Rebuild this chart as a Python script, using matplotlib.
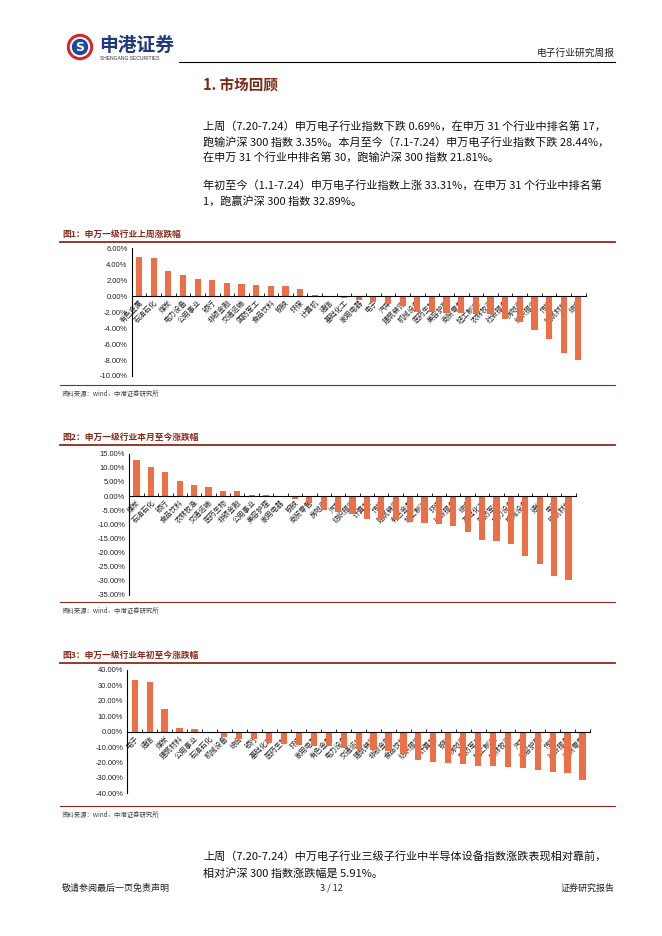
import numpy as np
import matplotlib.pyplot as plt
from matplotlib.patches import Circle

plt.rcParams['font.family'] = ['Noto Sans CJK SC', 'DejaVu Sans']

# 图1：申万一级行业上周涨跌幅
week_names = ['有色金属', '石油石化', '煤炭', '电力设备', '公用事业', '银行', '非银金融', '交通运输',
              '国防军工', '食品饮料', '钢铁', '环保', '计算机', '通信', '基础化工', '家用电器',
              '电子', '汽车', '建筑装饰', '机械设备', '医药生物', '美容护理', '商贸零售', '轻工制造',
              '农林牧渔', '社会服务', '房地产', '纺织服饰', '传媒', '建筑材料', '综合']
week_vals = [4.85, 4.80, 3.20, 2.70, 2.10, 2.05, 1.70, 1.55,
             1.40, 1.30, 1.25, 0.90, 0.10, 0.02, -0.25, -0.50,
             -0.69, -1.00, -1.26, -1.97, -1.98, -2.05, -2.06, -2.18,
             -2.26, -2.80, -3.22, -4.18, -5.40, -7.10, -8.05]

# 图2：申万一级行业本月至今涨跌幅
month_names = ['煤炭', '石油石化', '银行', '食品饮料', '农林牧渔', '交通运输', '医药生物', '非银金融',
               '公用事业', '美容护理', '家用电器', '钢铁', '商贸零售', '房地产', '汽车', '纺织服饰',
               '计算机', '传媒', '建筑装饰', '有色金属', '轻工制造', '环保', '社会服务', '综合',
               '基础化工', '国防军工', '电力设备', '机械设备', '通信', '电子', '建筑材料']
month_vals = [12.8, 10.4, 8.6, 5.4, 3.8, 3.3, 1.9, 1.8,
              0.35, 0.2, -0.1, -1.2, -2.4, -5.1, -5.6, -6.5,
              -8.0, -8.2, -8.4, -9.2, -9.5, -9.8, -10.6, -12.9,
              -15.5, -16.1, -16.9, -21.4, -24.0, -28.44, -29.9]

# 图3：申万一级行业年初至今涨跌幅
ytd_names = ['电子', '通信', '煤炭', '建筑材料', '公用事业', '石油石化', '机械设备', '综合',
             '银行', '基础化工', '医药生物', '环保', '家用电器', '有色金属', '电力设备', '交通运输',
             '建筑装饰', '非银金融', '食品饮料', '纺织服饰', '计算机', '钢铁', '房地产', '国防军工',
             '轻工制造', '农林牧渔', '汽车', '美容护理', '传媒', '社会服务', '商贸零售']
ytd_vals = [33.31, 32.2, 14.5, 2.4, 1.9, -0.2, -3.7, -4.8,
            -5.0, -7.6, -8.0, -8.6, -9.1, -9.3, -10.8, -11.5,
            -12.0, -12.3, -14.0, -18.2, -19.7, -20.3, -20.8, -22.0,
            -22.5, -22.9, -23.3, -25.0, -26.2, -26.8, -31.5]

W, H = 662, 936
fig = plt.figure(figsize=(W / 100, H / 100), dpi=100)

def fx(x):
    return x / W

def fy(y):
    return 1 - y / H

dark_red = '#8B2A1A'
bar_color = '#EE6E45'
cjk = ['Noto Sans CJK SC', 'DejaVu Sans']

# header / logo
logo = fig.add_axes([0, 0, 1, 1], zorder=-1)
logo.set_xlim(0, W)
logo.set_ylim(H, 0)
logo.axis('off')
logo.add_patch(Circle((80, 47), 12.5, color='#D7262B'))
logo.add_patch(Circle((80, 47), 9.5, color='white'))
logo.add_patch(Circle((80, 47), 7.5, color='#1C4A9B'))
logo.text(80, 47.5, 'S', color='white', fontsize=9, fontweight='bold', ha='center', va='center',
          family='DejaVu Sans')
fig.text(fx(99), fy(45), '申港证券', fontsize=13.5, fontweight='bold', color='#1F3A7A',
         va='center', family=cjk)
fig.text(fx(100), fy(58.5), 'SHENGANG SECURITIES', fontsize=3.6, color='#333333',
         va='center', family='Liberation Sans')
fig.text(fx(615), fy(53), '电子行业研究周报', fontsize=7, color='#222222', ha='right',
         va='center', family=cjk)
logo.plot([179, 615], [62, 62], color='black', lw=0.8)

# section title and paragraphs
fig.text(fx(203), fy(86), '1. 市场回顾', fontsize=10.5, fontweight='bold', color='#7A2A14',
         va='center', family=cjk)
para_lines = [
    (126, '上周（7.20-7.24）申万电子行业指数下跌 0.69%，在申万 31 个行业中排名第 17，'),
    (142, '跑输沪深 300 指数 3.35%。本月至今（7.1-7.24）申万电子行业指数下跌 28.44%，'),
    (157, '在申万 31 个行业中排名第 30，跑输沪深 300 指数 21.81%。'),
    (185, '年初至今（1.1-7.24）申万电子行业指数上涨 33.31%，在申万 31 个行业中排名第'),
    (201, '1，跑赢沪深 300 指数 32.89%。'),
    (857, '上周（7.20-7.24）中万电子行业三级子行业中半导体设备指数涨跌表现相对靠前，'),
    (873, '相对沪深 300 指数涨跌幅是 5.91%。'),
]
for y, s in para_lines:
    fig.text(fx(203), fy(y), s, fontsize=8.0, color='#111111', va='center', family=cjk)

# footer
fig.text(fx(62), fy(888), '敬请参阅最后一页免责声明', fontsize=6.5, color='#222222', va='center', family=cjk)
fig.text(fx(331), fy(888), '3 / 12', fontsize=6.5, color='#222222', va='center', ha='center', family=cjk)
fig.text(fx(615), fy(888), '证券研究报告', fontsize=6.5, color='#222222', va='center', ha='right', family=cjk)


def draw_chart(title, title_y, names, vals, x0, x1, y_top, y_bot, ymax, ymin, step, frame_bot):
    fig.text(fx(62), fy(title_y), title, fontsize=6.3, fontweight='bold', color=dark_red,
             va='center', family=cjk)
    logo.plot([60, 615], [title_y + 8, title_y + 8], color=dark_red, lw=1.3)
    logo.plot([60, 615], [frame_bot, frame_bot], color=dark_red, lw=0.8)
    fig.text(fx(62), fy(frame_bot + 9), '资料来源：wind，中港证券研究所', fontsize=4.6,
             color='#444444', va='center', style='italic', family=cjk)

    ax = fig.add_axes([fx(x0), fy(y_bot), (x1 - x0) / W, (y_bot - y_top) / H])
    n = len(names)
    x = np.arange(n)
    ax.bar(x, vals, width=0.42, color=bar_color, zorder=2)
    ax.set_xlim(-0.5, n - 0.5)
    ax.set_ylim(ymin, ymax)
    ax.patch.set_alpha(0)
    for s in ['top', 'right']:
        ax.spines[s].set_visible(False)
    ax.spines['bottom'].set_position(('data', 0))
    ax.spines['bottom'].set_linewidth(0.8)
    ax.spines['left'].set_linewidth(0.8)
    ax.set_xticks(x)
    ax.set_xticklabels(names, rotation=45, ha='right', rotation_mode='anchor',
                       fontsize=5.2, family=cjk, color='#222222')
    ax.set_xticks(np.arange(n + 1) - 0.5, minor=True)
    ax.tick_params(axis='x', which='major', length=0, pad=2)
    ax.tick_params(axis='x', which='minor', direction='in', length=2.5, width=0.6)
    yt = np.arange(ymin, ymax + step / 2, step)
    ax.set_yticks(yt)
    ax.set_yticklabels([f'{v:.2f}%' for v in yt], fontsize=5.4, family='Liberation Sans',
                       color='#222222')
    ax.tick_params(axis='y', direction='in', length=0, pad=3)


draw_chart('图1：申万一级行业上周涨跌幅', 234, week_names, week_vals,
           131.7, 585.7, 248.3, 376, 6, -10, 2, 385)
draw_chart('图2：申万一级行业本月至今涨跌幅', 437, month_names, month_vals,
           129.3, 575.7, 453.7, 594.7, 15, -35, 5, 602)
draw_chart('图3：申万一级行业年初至今涨跌幅', 655, ytd_names, ytd_vals,
           127.3, 590, 670, 793.3, 40, -40, 10, 806)

fig.savefig('out.png', dpi=100)
